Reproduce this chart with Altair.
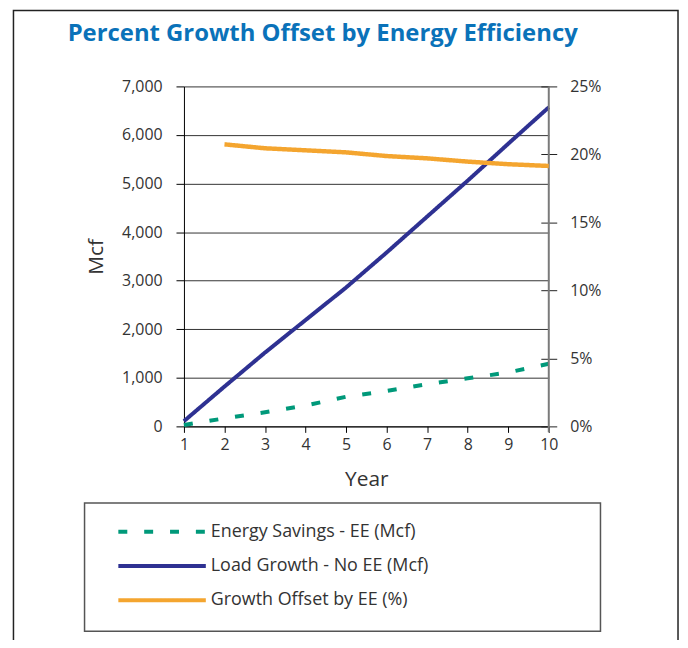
import altair as alt
import pandas as pd

# ---- data ----
years = [1, 2, 3, 4, 5, 6, 7, 8, 9, 10]
energy_savings_mcf = [30, 165, 290, 430, 610, 730, 870, 990, 1110, 1290]
load_growth_mcf = [108, 820, 1520, 2190, 2860, 3580, 4320, 5060, 5820, 6570]
offset_years = [2, 3, 4, 5, 6, 7, 8, 9, 10]
growth_offset_pct = [20.74, 20.45, 20.30, 20.15, 19.88, 19.71, 19.47, 19.28, 19.15]

series_names = ["Energy Savings - EE (Mcf)", "Load Growth - No EE (Mcf)", "Growth Offset by EE (%)"]
series_colors = ["#00997a", "#2e3192", "#f4a52f"]
series_dashes = [[9, 17], [1, 0], [1, 0]]

left_ticks = [0, 1000, 2000, 3000, 4000, 5000, 6000, 7000]
right_ticks = [0, 0.05, 0.10, 0.15, 0.20, 0.25]

FONT = "Open Sans"
TXT = "#333333"

mcf_df = pd.DataFrame({
    "year": years + years,
    "mcf": energy_savings_mcf + load_growth_mcf,
    "series": [series_names[0]] * len(years) + [series_names[1]] * len(years),
})
pct_df = pd.DataFrame({
    "year": offset_years,
    "pct": [p / 100 for p in growth_offset_pct],
    "series": [series_names[2]] * len(offset_years),
})
legend_df = pd.DataFrame({"series": series_names, "row": [0, 1, 2]})
one = pd.DataFrame({"k": [0]})

W, H = 367, 342

color = alt.Color("series:N", scale=alt.Scale(domain=series_names, range=series_colors), legend=None)
dash = alt.StrokeDash("series:N", scale=alt.Scale(domain=series_names, range=series_dashes), legend=None)

x_enc = alt.X(
    "year:Q",
    scale=alt.Scale(domain=[1, 10], nice=False, zero=False),
    axis=alt.Axis(
        values=years, format="d", title="Year", grid=False, domainColor="#000", tickColor="#000",
        tickSize=6, labelPadding=4, labelFlush=False, titleX=W / 2, titleY=53,
        titleAlign="center", titleBaseline="middle",
    ),
)

frame = alt.Chart(one).mark_rect(fillOpacity=0, stroke="#222", strokeWidth=1.5).encode(
    x=alt.value(-171.5), x2=alt.value(497), y=alt.value(-76.25), y2=alt.value(620)
)

left = alt.Chart(mcf_df).mark_line(strokeWidth=4, strokeCap="butt").encode(
    x=x_enc,
    y=alt.Y(
        "mcf:Q",
        scale=alt.Scale(domain=[0, 7000], nice=False),
        axis=alt.Axis(
            orient="left", values=left_ticks, format=",.0f", title="Mcf", grid=True,
            gridColor="#333", gridWidth=1, domainColor="#000", tickColor="#000",
            tickSize=8, labelPadding=14, labelFlush=False, titleX=-88, titleY=H / 2,
            titleAngle=270, titleAlign="center", titleBaseline="middle",
        ),
    ),
    color=color,
    strokeDash=dash,
)

right_domain = alt.Chart(one).mark_rule(color="#7a7a7a", strokeWidth=2).encode(
    x=alt.value(W), y=alt.value(0), y2=alt.value(H + 6)
)

right = alt.Chart(pct_df).mark_line(strokeWidth=4.5, strokeCap="butt").encode(
    x=alt.X("year:Q"),
    y=alt.Y(
        "pct:Q",
        scale=alt.Scale(domain=[0, 0.25], nice=False),
        axis=alt.Axis(
            orient="right", values=right_ticks, format=".0%", title=None, grid=False,
            domain=False, offset=-8, tickSize=16, tickColor="#222", labelPadding=13,
            labelFlush=False,
        ),
    ),
    color=color,
    strokeDash=dash,
)

legend_box = alt.Chart(one).mark_rect(fillOpacity=0, stroke="#555", strokeWidth=1.5).encode(
    x=alt.value(-100), x2=alt.value(419), y=alt.value(419), y2=alt.value(548)
)

leg_y = alt.Y("row:Q", scale=alt.Scale(domain=[0, 2], range=[448, 517]), axis=None)

legend_lines = alt.Chart(legend_df).mark_rule(strokeWidth=4, strokeCap="butt").encode(
    x=alt.value(-66), x2=alt.value(22), y=leg_y, color=color, strokeDash=dash
)
legend_text = alt.Chart(legend_df).mark_text(
    align="left", baseline="middle", font=FONT, fontSize=18, color=TXT
).encode(x=alt.value(27), y=leg_y, text="series:N")

chart = (
    alt.layer(frame, left, right_domain, right, legend_box, legend_lines, legend_text)
    .resolve_scale(y="independent")
    .properties(
        width=W,
        height=H,
        autosize=alt.AutoSizeParams(type="none"),
        padding={"left": 177, "top": 77, "right": 132, "bottom": 213},
        background="white",
        title=alt.TitleParams(
            "Percent Growth Offset by Energy Efficiency",
            anchor="start", frame="group", dx=-117, offset=-55, baseline="alphabetic",
            font=FONT, fontSize=24, fontWeight="bold", color="#0a72b9",
        ),
    )
    .configure_view(stroke=None)
    .configure_axis(
        labelFont=FONT, labelFontSize=16, labelColor=TXT,
        titleFont=FONT, titleFontSize=21, titleFontWeight="normal", titleColor=TXT,
    )
)

chart.save("out.html", embed_options={"renderer": "svg", "actions": False})
